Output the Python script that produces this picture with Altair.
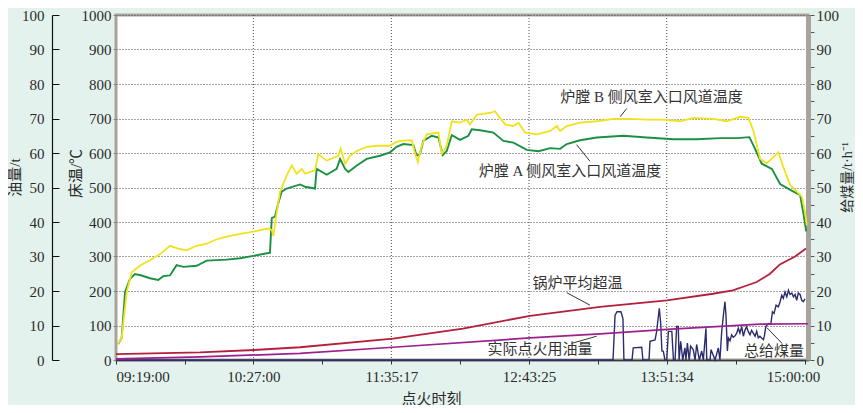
import altair as alt
import pandas as pd

SERIF = "Liberation Serif, Noto Sans CJK SC"
CJK = "Liberation Serif, Noto Sans CJK SC"
TXT = "#2a2a2a"
FRAME = "#a8a49c"

# ---- time axis (minutes after 09:19:00) ----
tick_minutes = [0, 34.0, 68.0, 102.14, 136.28, 170.35, 204.42, 238.5, 272.57, 306.78, 341.0]
label_minutes = [0, 68.0, 136.28, 204.42, 272.57, 341.0]
label_text = ["09:19:00", "10:27:00", "11:35:17", "12:43:25", "13:51:34", "15:00:00"]
grid_minutes = [68.0, 136.28, 204.42, 272.57]

# ---- 炉膛B侧风室入口风道温度 (℃) ----
b_t = [1.0, 2.8, 5.3, 7.8, 11.9, 16.8, 21.8, 26.7, 30.7, 35.0, 39.9, 44.9, 49.9, 56.4, 62.9,
       69.7, 75.2, 77.1, 77.9, 79.5, 81.2, 84.5, 87.0, 89.4, 91.9, 93.6, 98.5, 100.1, 104.3, 110.0,
       111.2, 113.4, 115.8, 119.2, 124.1, 129.1, 135.6, 138.1, 140.6, 146.4, 147.7, 149.4, 151.3,
       153.8, 159.6, 161.2, 163.7, 166.2, 170.3, 173.6, 175.2, 178.6, 185.1, 187.6, 189.3, 192.6,
       196.7, 199.2, 202.5, 208.3, 214.9, 218.2, 219.8, 223.1, 229.7, 238.0, 246.2, 254.5, 262.7,
       271.0, 279.2, 285.8, 295.7, 302.3, 308.9, 313.0, 315.5, 318.8, 322.1, 327.8, 330.3, 333.7,
       337.0, 339.5, 341.1, 341.9]
b_v = [46, 64, 197, 254, 274, 289, 307, 331, 323, 318, 331, 337, 350, 360, 367,
       374, 381, 377, 359, 426, 488, 535, 564, 540, 554, 540, 550, 597, 578, 592,
       613, 569, 592, 606, 618, 621, 621, 630, 635, 637, 606, 573, 621,
       654, 659, 597, 621, 692, 688, 697, 683, 711, 716, 721, 707, 683,
       678, 688, 659, 654, 664, 678, 664, 678, 688, 692, 699, 699, 697,
       697, 692, 702, 699, 692, 705, 702, 664, 583, 570, 602, 559, 507,
       488, 473, 426, 390]

# ---- 炉膛A侧风室入口风道温度 (℃) ----
g_t = [1.1, 2.8, 4.5, 6.9, 9.4, 12.7, 16.8, 20.9, 23.4, 26.7, 30.0, 33.3, 39.9, 44.9, 54.8,
       61.4, 68.0, 75.4, 76.2, 77.1, 78.7, 80.3, 82.0, 84.5, 91.1, 93.6, 98.5, 99.3, 104.3, 109.2,
       110.9, 113.4, 115.0, 119.2, 124.1, 130.7, 135.6, 138.9, 142.2, 147.2, 148.8, 150.5, 152.1,
       156.3, 159.6, 161.7, 163.7, 166.2, 170.3, 174.4, 176.1, 180.2, 186.8, 191.7, 196.7, 203.3,
       209.1, 214.9, 219.8, 223.1, 229.7, 238.0, 251.1, 262.7, 275.9, 287.5, 299.0, 307.3, 313.5,
       316.3, 319.6, 324.6, 328.7, 333.7, 338.6, 340.2, 341.6]
g_v = [46, 64, 197, 235, 249, 245, 237, 232, 243, 245, 275, 270, 273, 288, 291,
       295, 302, 310, 311, 411, 416, 454, 488, 497, 509, 502, 497, 554, 537, 554,
       583, 554, 545, 564, 583, 592, 602, 618, 626, 623, 592, 597, 635,
       650, 645, 594, 606, 652, 638, 650, 669, 666, 659, 635, 630, 609,
       605, 614, 612, 626, 637, 645, 650, 645, 640, 640, 643, 643, 646,
       612, 569, 554, 510, 493, 478, 426, 373]

# ---- 锅炉平均超温 ----
r_t = [0, 41.6, 68.3, 91.1, 137.1, 171.7, 204.9, 239.6, 272.7, 295.5, 305.3, 312.2, 317.1,
       323.7, 328.6, 336.1, 341.5]
r_v = [17, 22, 29, 37, 62, 91, 128, 154, 173, 192, 202, 216, 226, 250, 277, 300, 323]

# ---- 实际点火用油量 (t) ----
o_t = [0, 41.6, 91.1, 137.1, 204.9, 239.6, 272.7, 318.8, 342.5]
o_v = [0.3, 0.9, 1.9, 3.7, 6.4, 7.6, 8.9, 10.4, 10.5]

# ---- 总给煤量 (t/h) ----
c_t = [0, 246.0, 247.0, 248.0, 249.9, 250.9, 251.4, 255.4, 256.0, 260.2,
       260.8, 263.8, 264.3, 266.8, 267.6, 268.9, 269.6, 270.2, 270.9, 271.7,
       272.6, 273.4, 275.1, 275.9, 276.7, 277.5, 278.3, 278.7, 279.5, 280.5,
       281.6, 282.1, 282.8, 283.7, 284.4, 285.7, 286.6, 287.4, 288.7, 289.9,
       290.7, 292.0, 292.4, 294.0, 294.5, 295.3, 296.5, 298.1, 298.9, 299.8,
       300.9, 301.4, 301.9, 302.6, 303.1, 303.9, 304.7, 305.5, 306.4, 307.2,
       308.0, 308.8, 309.7, 310.5, 311.3, 312.1, 312.9, 313.8, 314.6, 315.4,
       316.3, 317.1, 317.9, 318.7, 320.4, 320.9, 321.6, 322.9, 324.1, 324.9,
       325.7, 326.7, 327.8, 328.7, 329.5, 330.3, 331.1, 332.0, 332.8, 333.6,
       334.5, 335.3, 336.1, 336.9, 337.7, 338.6, 339.4, 340.2, 341.0]
c_v = [0, 0, 13, 14, 14, 12, 0, 0, 3.5, 3.7,
       0, 0, 5.4, 5.8, 8.3, 15, 10.6, 2.6, 2.5, 0,
       0, 8.3, 8.3, 0, 0, 9.7, 9.7, 0, 5.4, 0,
       3.5, 0, 4.9, 0, 4, 3, 0, 4.5, 0, 2.6,
       0, 9.2, 0, 0, 3, 1.8, 0, 3.5, 0, 8.3,
       14.5, 16.9, 13, 2.6, 6.4, 5.6, 7.3, 6.6, 7, 7.8,
       9.2, 7.8, 9.7, 6.9, 8.6, 9.7, 8.3, 7.3, 8.6, 7.8,
       6.9, 8.3, 6.4, 6.9, 5.9, 6.9, 9.7, 10.6, 10.4, 14,
       13.5, 15.9, 15.4, 16.9, 18.8, 17.9, 19.7, 18.3, 20.2, 19,
       19.4, 18.3, 19, 17.3, 19.4, 19, 17.3, 16.9, 17.7]

# ---- annotations (minutes, ℃ scale) ----
ann_text = ["炉膛 B 侧风室入口风道温度", "炉膛 A 侧风室入口风道温度", "锅炉平均超温", "实际点火用油量", "总给煤量"]
ann_t = [265.1, 224.7, 228.4, 209.9, 325.7]
ann_v = [763, 549, 223, 31, 27]
lead_t = [252.8, 228.0, 223.1, 225.5, 322.1]
lead_v = [729, 624, 195, 48, 94]
lead_t2 = [249.5, 234.6, 234.6, 237.9, 329.5]
lead_v2 = [705, 576, 159, 69, 49]

label_expr = "".join(
    f"abs(datum.value - {m}) < 0.5 ? '{s}' : " for m, s in zip(label_minutes, label_text)
) + "''"

X = alt.X(
    "t:Q",
    scale=alt.Scale(domain=[0, 342.5], nice=False, zero=False),
    axis=alt.Axis(
        values=tick_minutes, labelExpr=label_expr, grid=False, labelOverlap=False,
        labelFlush=False,
        labelAlign={"expr": "datum.value < 1 ? 'left' : 'center'"},
        labelOffset={"expr": "datum.value > 340 ? -12 : 0"},
        labelFont=SERIF, labelFontSize=15, labelColor=TXT, labelPadding=5,
        tickSize=4, tickColor="#333", domainColor="#3a3a3a", domainWidth=1.5,
        title="点火时刻", titleFont=CJK, titleFontSize=15, titleFontWeight="normal",
        titleColor=TXT, titleX=315, titleY=38, titleBaseline="middle", titleAlign="center",
    ),
)

T_SCALE = alt.Scale(domain=[0, 1000], nice=False, zero=True)
P_SCALE = alt.Scale(domain=[0, 100], nice=False, zero=True)

temp_axis = alt.Axis(
    orient="left", values=list(range(0, 1001, 100)), format="d", grid=True, gridDash=[1, 2],
    gridColor="#4a4a4a", gridWidth=1, gridOpacity=1, domain=False,
    tickSize=3, tickColor="#8a8680", labelPadding=2, labelFont=SERIF, labelFontSize=15,
    labelColor=TXT, labelFlush=False,
    title="床温/℃", titleFont=CJK, titleFontSize=15, titleFontWeight="normal", titleColor=TXT,
    titleX=-41, titleY=158, titleAngle=270, titleAlign="center", titleBaseline="middle",
)
oil_axis = alt.Axis(
    orient="right", offset=-756, values=list(range(0, 101, 10)), format="d", grid=False,
    domainColor="#111", domainWidth=1.2, tickSize=7, tickColor="#111",
    labelAlign="right", labelPadding=-15, labelFont=SERIF, labelFontSize=15, labelColor=TXT,
    labelFlush=False,
    title="油量/t", titleFont=CJK, titleFontSize=15, titleFontWeight="normal", titleColor=TXT,
    titleX=-38, titleY=162, titleAngle=270, titleAlign="center", titleBaseline="middle",
)
coal_axis = alt.Axis(
    orient="right", values=list(range(0, 101, 5)),
    labelExpr="datum.value % 10 == 0 ? datum.label : ''", grid=False,
    domainColor=FRAME, domainWidth=5, tickSize=6, tickColor="#555",
    labelAlign="left", labelPadding=2, labelFont=SERIF, labelFontSize=15, labelColor=TXT,
    labelFlush=False,
    title="给煤量/t·h⁻¹", titleFont=CJK, titleFontSize=14, titleFontWeight="normal",
    titleColor=TXT, titleX=39, titleY=162, titleAngle=270, titleAlign="center",
    titleBaseline="middle",
)

vgrid = alt.Chart(pd.DataFrame({"t": grid_minutes})).mark_rule(
    strokeDash=[1, 2], color="#4a4a4a", strokeWidth=1
).encode(x=X)

coal = alt.Chart(pd.DataFrame({"t": c_t, "v": c_v})).mark_line(
    color="#2b2c6e", strokeWidth=1.4
).encode(x=X, y=alt.Y("v:Q", scale=P_SCALE, axis=coal_axis))

oil = alt.Chart(pd.DataFrame({"t": o_t, "v": o_v})).mark_line(
    color="#9e1f8e", strokeWidth=1.7
).encode(x=X, y=alt.Y("v:Q", scale=P_SCALE, axis=oil_axis))

red = alt.Chart(pd.DataFrame({"t": r_t, "v": r_v})).mark_line(
    color="#b3203c", strokeWidth=1.8
).encode(x=X, y=alt.Y("v:Q", scale=T_SCALE, axis=temp_axis))

green = alt.Chart(pd.DataFrame({"t": g_t, "v": g_v})).mark_line(
    color="#1a9142", strokeWidth=1.9
).encode(x=X, y=alt.Y("v:Q", scale=T_SCALE, axis=None))

yellow = alt.Chart(pd.DataFrame({"t": b_t, "v": b_v})).mark_line(
    color="#f2e21c", strokeWidth=1.8
).encode(x=X, y=alt.Y("v:Q", scale=T_SCALE, axis=None))

leaders = alt.Chart(pd.DataFrame({"t": lead_t, "v": lead_v, "t2": lead_t2, "v2": lead_v2})).mark_rule(
    color="#333", strokeWidth=1
).encode(x=X, x2="t2:Q", y=alt.Y("v:Q", scale=T_SCALE, axis=None), y2="v2:Q")

texts = alt.Chart(pd.DataFrame({"t": ann_t, "v": ann_v, "s": ann_text})).mark_text(
    font=CJK, fontSize=15, color="#333", align="center", baseline="middle"
).encode(x=X, y=alt.Y("v:Q", scale=T_SCALE, axis=None), text="s:N")

chart = alt.layer(vgrid, coal, oil, red, green, yellow, leaders, texts).resolve_scale(
    y="independent"
).properties(
    width=692, height=345,
    autosize=alt.AutoSizeParams(type="none"),
    padding={"left": 108, "top": 7, "right": 47, "bottom": 45},
    background="#e4f2ed",
).configure_view(stroke=FRAME, strokeWidth=3, fill="white")

chart.save("out.html", embed_options={"renderer": "svg", "actions": False})
